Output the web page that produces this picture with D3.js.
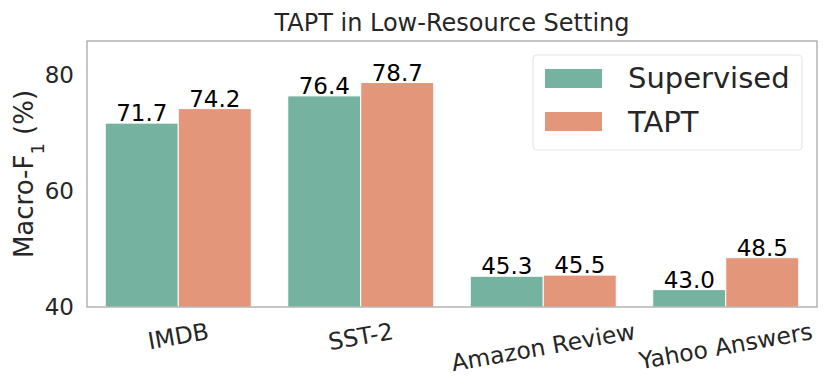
<!DOCTYPE html>
<html>
<head>
<meta charset="utf-8">
<script src="https://cdn.jsdelivr.net/npm/d3@7"></script>
<style>
  body { margin: 0; background: #fff; }
  text { font-family: "DejaVu Sans", sans-serif; }
</style>
</head>
<body>
<div id="chart"></div>
<script>
// data
const categories = ["IMDB", "SST-2", "Amazon Review", "Yahoo Answers"]
const seriesNames = ["Supervised", "TAPT"]
const supervised = [71.7, 76.4, 45.3, 43.0]
const tapt = [74.2, 78.7, 45.5, 48.5]
const yTicks = [40, 60, 80]

const colors = ["#75b3a0", "#e3967a"]

const W = 830, H = 384
const margin = {top: 41, right: 13, bottom: 77, left: 87}
const width = W - margin.left - margin.right
const height = H - margin.top - margin.bottom

const svg = d3.select("#chart").append("svg")
    .attr("width", W)
    .attr("height", H)

const g = svg.append("g")
    .attr("transform", `translate(${margin.left},${margin.top})`)

let rows = categories.map((c, i) => ({cat: c, values: [supervised[i], tapt[i]]}))

let x0 = d3.scaleBand().domain(categories).range([0, width]).paddingInner(0.2).paddingOuter(0.1)
let x1 = d3.scaleBand().domain(seriesNames).range([0, x0.bandwidth()])
let y = d3.scaleLinear().domain([40, 85.86]).range([height, 0])

// title
svg.append("text")
    .attr("x", margin.left + width / 2)
    .attr("y", 31)
    .attr("text-anchor", "middle")
    .attr("font-size", 24)
    .attr("fill", "#262626")
    .text("TAPT in Low-Resource Setting")

// bars
let groups = g.selectAll(".grp")
    .data(rows)
    .enter().append("g")
    .attr("class", "grp")
    .attr("transform", d => `translate(${x0(d.cat)},0)`)

groups.selectAll("rect")
    .data(d => d.values.map((v, j) => ({key: seriesNames[j], v: v, j: j})))
    .enter().append("rect")
    .attr("x", d => x1(d.key))
    .attr("width", x1.bandwidth())
    .attr("y", d => y(d.v))
    .attr("height", d => height - y(d.v))
    .attr("fill", d => colors[d.j])
    .attr("stroke", "#fff")
    .attr("stroke-width", 1)

groups.selectAll(".lbl")
    .data(d => d.values.map((v, j) => ({key: seriesNames[j], v: v})))
    .enter().append("text")
    .attr("class", "lbl")
    .attr("x", d => x1(d.key) + x1.bandwidth() / 2)
    .attr("y", d => y(d.v) - 2)
    .attr("text-anchor", "middle")
    .attr("font-size", 23)
    .attr("fill", "#000")
    .text(d => d.v.toFixed(1))

// y axis
let yAxis = d3.axisLeft(y).tickValues(yTicks).tickSize(0).tickPadding(13)
g.append("g").call(yAxis)
    .call(a => a.select(".domain").remove())
    .selectAll("text")
    .attr("font-size", 23)
    .attr("fill", "#262626")
    .style("font-family", "DejaVu Sans")

// x axis, labels rotated 10deg; top of rotated box sits ~11px under the axis
const xfs = 23.5
const ang = 10 * Math.PI / 180
let xAxis = d3.axisBottom(x0).tickSize(0).tickPadding(0)
g.append("g")
    .attr("transform", `translate(0,${height})`)
    .call(xAxis)
    .call(a => a.select(".domain").remove())
    .selectAll("text")
    .attr("font-size", xfs)
    .attr("fill", "#262626")
    .style("font-family", "DejaVu Sans")
    .attr("dy", "0.35em")
    .attr("y", 0)
    .attr("text-anchor", "middle")
    .attr("transform", function() {
        let len = this.getComputedTextLength()
        let h = xfs * 1.1
        let boxH = len * Math.sin(ang) + h * Math.cos(ang)
        return `translate(0,${11 + boxH / 2}) rotate(-10)`
    })

// frame
g.append("rect")
    .attr("width", width)
    .attr("height", height)
    .attr("fill", "none")
    .attr("stroke", "#a0a0a0")
    .attr("stroke-width", 1.2)

// y label
svg.append("text")
    .attr("transform", `translate(33,${margin.top + height / 2}) rotate(-90)`)
    .attr("text-anchor", "middle")
    .attr("font-size", 26)
    .attr("fill", "#262626")
    .html('Macro-F<tspan baseline-shift="sub" font-size="18">1</tspan> (%)')

// legend
let leg = svg.append("g").attr("transform", "translate(533,55)")
leg.append("rect")
    .attr("width", 269).attr("height", 95)
    .attr("rx", 4)
    .attr("fill", "#fff")
    .attr("stroke", "#e6e6e6")
    .attr("stroke-width", 1.2)

seriesNames.forEach((s, i) => {
    leg.append("rect")
        .attr("x", 12).attr("y", 14 + i * 43)
        .attr("width", 57).attr("height", 19)
        .attr("fill", colors[i])
    leg.append("text")
        .attr("x", 95).attr("y", 33 + i * 44)
        .attr("font-size", 29)
        .attr("fill", "#262626")
        .text(s)
})
</script>
</body>
</html>
